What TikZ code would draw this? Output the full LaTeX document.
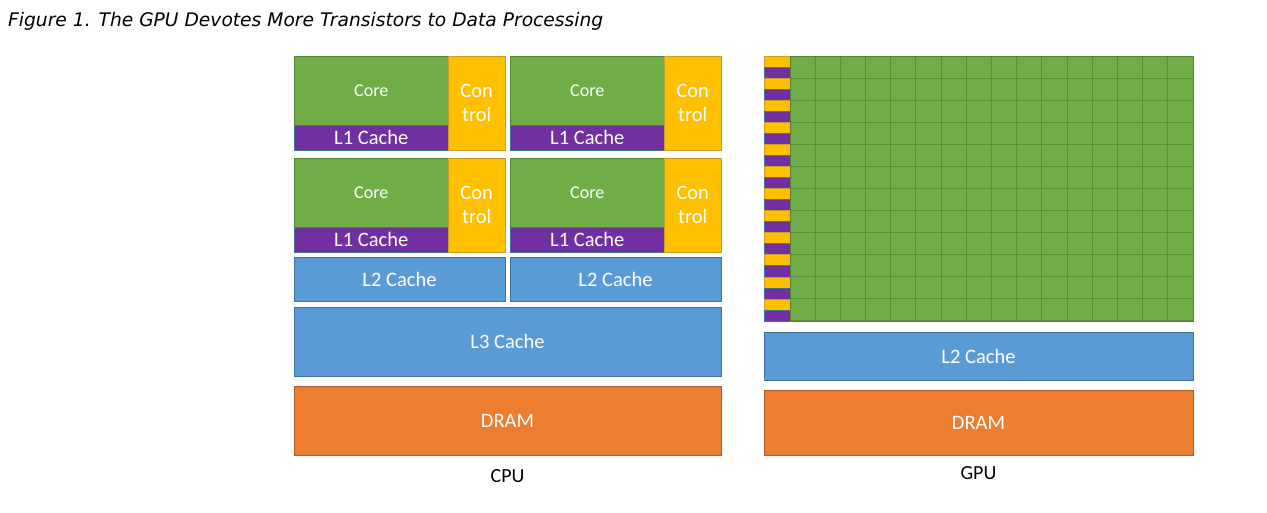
\documentclass[tikz,border=0pt]{standalone}
\usepackage{fontspec}
\setmainfont{Carlito}
\newfontfamily\titlefont{DejaVu Sans}
\definecolor{cgreen}{HTML}{70AD47}
\definecolor{cgreend}{HTML}{548235}
\definecolor{cgrid}{HTML}{5A8F3A}
\definecolor{cpurple}{HTML}{7030A0}
\definecolor{cpurpled}{HTML}{41719C}
\definecolor{cyellow}{HTML}{FFC000}
\definecolor{cyellowd}{HTML}{C9A020}
\definecolor{cblue}{HTML}{5B9BD5}
\definecolor{cblued}{HTML}{41719C}
\definecolor{corange}{HTML}{ED7D31}
\definecolor{oranged}{HTML}{AE5A21}
\begin{document}
\begin{tikzpicture}[x=1pt,y=-1pt,
  box/.style={draw, line width=0.8pt, inner sep=0pt, outer sep=0pt, anchor=north west,
    text=white, align=center, font=\fontsize{20.5}{24}\selectfont},
  corebox/.style={box, fill=cgreen, draw=cgreend, font=\fontsize{18}{20}\selectfont},
  lonebox/.style={box, fill=cpurple, draw=cpurpled},
  ctrlbox/.style={box, fill=cyellow, draw=cyellowd},
  cachebox/.style={box, fill=cblue, draw=cblued},
  drambox/.style={box, fill=corange, draw=oranged},
  caption/.style={text=black, font=\fontsize{20}{24}\selectfont, inner sep=0pt},
  cell/.style={fill=cgreen, draw=cgrid, line width=1pt},
  ystrip/.style={fill=cyellow, draw=cyellowd, line width=0.6pt},
  pstrip/.style={fill=cpurple, draw=cpurpled, line width=0.6pt}]
\useasboundingbox (0,0) rectangle (1267,512);
\fill[white] (0,0) rectangle (1267,512);
% title
\node[anchor=base west, inner sep=0pt, font=\titlefont\itshape\fontsize{17.4}{20}\selectfont] (title) at (8,26)
  {\resizebox{595pt}{!}{Figure 1. The GPU Devotes More Transistors to Data Processing}};
% CPU cores
\foreach \i/\x in {1/294, 2/510} {
  \foreach \j/\y in {1/56, 2/158} {
    \node[corebox, minimum width=154.5pt, minimum height=69.7pt] (core\i\j) at (\x,\y) {Core};
    \node[lonebox, minimum width=154.5pt, minimum height=24.3pt] (lone\i\j) at (\x,\y+69.7) {L1 Cache};
    \node[ctrlbox, minimum width=56.5pt, minimum height=94pt] (ctrl\i\j) at (\x+154.5,\y) {Con\\trol};
  }
}
\node[cachebox, minimum width=211pt, minimum height=44pt] (ltwoa) at (294,257) {L2 Cache};
\node[cachebox, minimum width=211pt, minimum height=44pt] (ltwob) at (510,257) {L2 Cache};
\node[cachebox, minimum width=427pt, minimum height=69.7pt] (lthree) at (294,307) {L3 Cache};
\node[drambox, minimum width=427pt, minimum height=69.7pt] (cdram) at (294,386) {DRAM};
\node[caption] (cpu) at (507.5,476) {CPU};
% GPU grid
\foreach \r in {0,...,11} {
  \pgfmathsetmacro{\ya}{56+22.08*\r}
  \pgfmathsetmacro{\yb}{\ya+11.04}
  \pgfmathsetmacro{\yc}{\ya+22.08}
  \filldraw[ystrip] (764,\ya) rectangle (790,\yb);
  \filldraw[pstrip] (764,\yb) rectangle (790,\yc);
  \foreach \c in {0,...,15} {
    \pgfmathsetmacro{\xa}{790+25.19*\c}
    \pgfmathsetmacro{\xb}{\xa+25.19}
    \filldraw[cell] (\xa,\ya) rectangle (\xb,\yc);
  }
}
\draw[cgreend, line width=1pt] (790,56) rectangle (1193,321);
\node[cachebox, minimum width=429pt, minimum height=47.3pt] (gltwo) at (764,332.7) {L2 Cache};
\node[drambox, minimum width=429pt, minimum height=64.6pt] (gdram) at (764,390.7) {DRAM};
\node[caption] (gpu) at (978.5,473) {GPU};
\end{tikzpicture}
\end{document}
